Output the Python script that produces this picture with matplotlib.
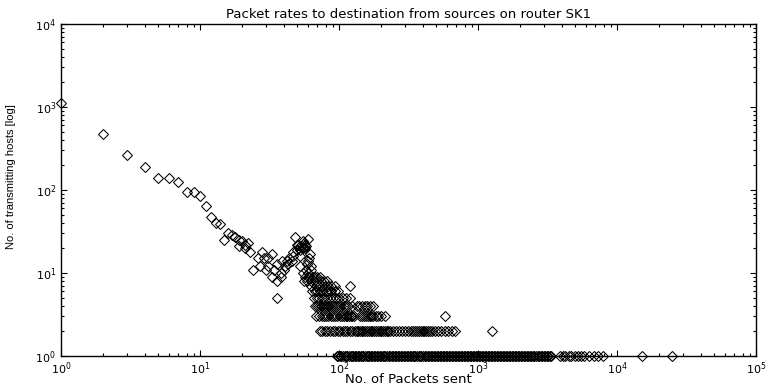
import numpy as np
import matplotlib
matplotlib.use('Agg')
import matplotlib.pyplot as plt

plt.rcParams['font.family'] = ['DejaVu Sans']
plt.rcParams['mathtext.fontset'] = 'dejavusans'

# packet counts (x) and number of hosts sending that many (y)
# sparse head of the distribution
x_head = [1, 2, 3, 4, 5, 6, 7, 8, 9, 10, 11, 12, 13, 14, 15, 16, 17, 18, 19, 19,
          20, 21, 21, 22, 23]
y_head = [1120, 470, 265, 190, 138, 141, 126, 95, 95, 85, 64, 47, 40, 39, 25, 30,
          29, 27, 25, 21, 24, 20, 22, 23, 18]

# bump around 50 packets
x_bump = [24, 26, 27, 28, 29, 30, 31, 31, 33, 33, 34, 36, 36, 36, 38, 38, 39, 40,
          41, 42, 43, 44, 46, 47, 47, 48, 50, 50, 51, 52, 52, 52, 52, 54, 55, 55,
          56, 57, 57, 58, 60, 60, 62, 63, 55, 58, 60, 63, 59, 61]
y_bump = [11, 15, 12, 18, 15, 11, 15, 12, 17, 9, 11, 13, 8, 5, 9, 10, 14, 11,
          12, 14, 13, 15, 14, 16, 18, 27, 19, 22, 22, 21, 19, 16, 12, 21, 20, 24,
          23, 22, 20, 21, 26, 14, 17, 12, 10, 11, 10, 11, 13, 15]

# integer-valued rows in the tail
x_row9 = [57, 60, 62, 65, 67, 70, 73]
x_row8 = [56, 59, 63, 66, 70, 74, 78, 82]
x_row7 = [63, 68, 72, 75, 79, 83, 88, 93, 120]
x_row6 = [64, 67, 70, 73, 76, 80, 84, 88, 93, 98]
x_row5 = [66, 69, 72, 75, 78, 82, 86, 90, 95, 100, 106, 112, 120]
x_row4 = [67, 70, 72, 74, 76, 78, 80, 83, 85, 88, 91, 94, 97, 100, 104, 108, 112,
          117, 124, 134, 140, 146, 153, 160, 168, 176]
x_row3 = [68, 72, 75, 78, 81, 84, 87, 90, 94, 97, 101, 105, 109, 112, 115, 118,
          121, 124, 128, 142, 146, 151, 156, 161, 166, 171, 177, 184, 192, 201,
          215, 580]
x_row2 = [73, 76, 79, 82, 86, 90, 94, 98, 102, 106, 110, 115, 120, 125, 130, 135,
          138, 142, 146, 150, 155, 159, 164, 169, 174, 179, 185, 190, 196, 202,
          208, 214, 220, 227, 233, 245, 258, 270, 285, 300, 315, 330, 341, 352,
          363, 375, 387, 399, 412, 425, 438, 452, 466, 490, 515, 545, 575, 610,
          645, 683, 1270]
x_row1 = [96, 99, 101, 104, 107, 110, 113, 115, 118, 121, 124, 127, 130, 133, 137,
          140, 143, 147, 150, 154, 158, 162, 165, 169, 173, 178, 182, 187, 191,
          196, 201, 206, 211, 216, 222, 228, 233, 239, 245, 251, 258, 264, 271,
          278, 284, 292, 299, 306, 314, 322, 330, 338, 347, 355, 364, 374, 383,
          392, 402, 413, 423, 434, 445, 456, 467, 479, 491, 504, 516, 529, 543,
          556, 570, 585, 599, 614, 630, 646, 662, 679, 696, 713, 731, 750, 769,
          788, 808, 829, 850, 871, 893, 915, 939, 962, 987, 1011, 1037, 1063,
          1090, 1118, 1146, 1175, 1205, 1235, 1267, 1299, 1331, 1365, 1400, 1435,
          1472, 1509, 1547, 1586, 1626, 1667, 1709, 1752, 1797, 1842, 1889, 1936,
          1985, 2036, 2087, 2140, 2194, 2249, 2306, 2365, 2424, 2486, 2549, 2613,
          2679, 2747, 2816, 2888, 2961, 3036, 3112, 3191, 3272, 3354,
          3890, 4060, 4250, 4480, 4700, 4950, 5200, 5500, 5800, 6290,
          6840, 7300, 7930, 15100, 24900]

rows = {9: x_row9, 8: x_row8, 7: x_row7, 6: x_row6, 5: x_row5,
        4: x_row4, 3: x_row3, 2: x_row2, 1: x_row1}

x = list(x_head) + list(x_bump)
y = list(y_head) + list(y_bump)
for k, xs in rows.items():
    x += xs
    y += [k] * len(xs)

fig = plt.figure(figsize=(7.67, 3.87), dpi=100)
ax = fig.add_axes([0.0795, 0.0801, 0.9062, 0.858])

ax.loglog(x, y, ls='none', marker='D', ms=5.5, mfc='none', mec='black', mew=0.75,
          clip_on=False)

ax.set_xlim(1, 1e5)
ax.set_ylim(1, 1e4)

ax.tick_params(which='both', direction='in', top=True, right=True, labelsize=8,
               width=0.8)
ax.tick_params(which='major', length=4)
ax.tick_params(which='minor', length=2.5)
for s in ax.spines.values():
    s.set_linewidth(1)

ax.set_title('Packet rates to destination from sources on router SK1',
             fontsize=9.5, pad=4)
ax.set_xlabel('No. of Packets sent', fontsize=9.5)
ax.xaxis.set_label_coords(0.5, -0.051)
ax.set_ylabel('No. of transmitting hosts [log]', fontsize=8,
              family=['Liberation Sans Narrow', 'Liberation Sans'])
ax.yaxis.set_label_coords(-0.065, 0.54)

fig.savefig('out.png', dpi=100)
